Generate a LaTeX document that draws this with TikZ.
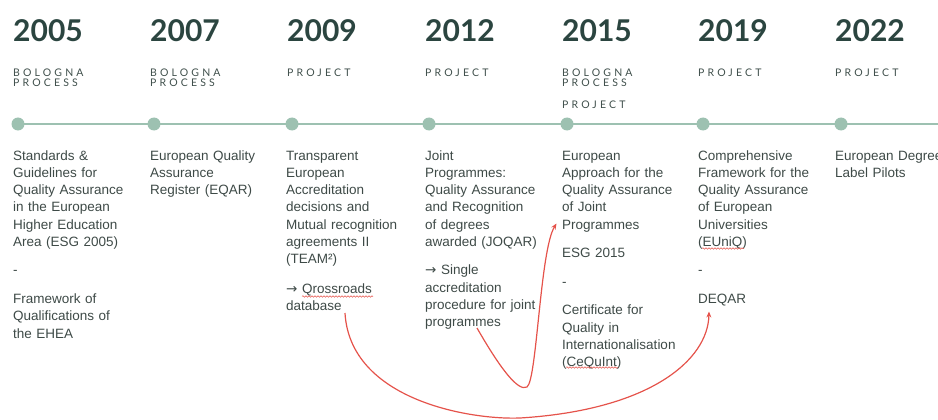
\documentclass[tikz,border=0pt]{standalone}
\usepackage{fontspec}
\setmainfont{Liberation Sans}
\newfontfamily\latofont{Lato}
\newfontfamily\capfont[LetterSpace=30]{Lato}
\newfontfamily\arrowfont{DejaVu Sans}
\usetikzlibrary{arrows.meta,backgrounds,decorations.pathmorphing}
\definecolor{yearcol}{HTML}{2B4540}
\definecolor{capcol}{HTML}{3F4F4B}
\definecolor{bodycol}{HTML}{3E4A47}
\definecolor{dotcol}{HTML}{9DC1B1}
\definecolor{redcol}{HTML}{E5534B}
\newcommand{\rarr}{{\arrowfont →}}
\tikzset{
  year/.style={anchor=base west, inner sep=0pt, text=yearcol, font=\latofont\bfseries\fontsize{30}{30}\selectfont},
  caps/.style={anchor=north west, inner sep=0pt, align=left, text=capcol, font=\capfont\fontsize{10.5}{10.8}\selectfont},
  body/.style={anchor=north west, inner sep=0pt, text width=140pt, align=left, text=bodycol, font=\fontsize{13.5}{17.25}\selectfont},
  dot/.style={circle, fill=dotcol, inner sep=0pt, minimum size=13pt},
  timeline/.style={draw=dotcol, line width=1.4pt},
  link/.style={draw=redcol, line width=1.2pt, -{Stealth[length=6pt,width=5pt]}},
  squiggle/.style={draw=redcol, line width=0.5pt, decorate, decoration={snake, amplitude=0.8pt, segment length=3pt}}
}
\begin{document}
\begin{tikzpicture}[x=1pt,y=-1pt]
\useasboundingbox (0,0) rectangle (938,420);
% years
\node[year] (y1) at (13,42) {2005};
\node[year] (y2) at (150,42) {2007};
\node[year] (y3) at (287,42) {2009};
\node[year] (y4) at (425,42) {2012};
\node[year] (y5) at (562,42) {2015};
\node[year] (y6) at (698,42) {2019};
\node[year] (y7) at (835,42) {2022};
% categories
\node[caps] (c1) at (13,68.3) {BOLOGNA\\PROCESS};
\node[caps] (c2) at (150,68.3) {BOLOGNA\\PROCESS};
\node[caps] (c3) at (287,68.3) {PROJECT};
\node[caps] (c4) at (425,68.3) {PROJECT};
\node[caps] (c5) at (562,68.3) {BOLOGNA\\PROCESS};
\node[caps] (c5b) at (562,100.8) {PROJECT};
\node[caps] (c6) at (698,68.3) {PROJECT};
\node[caps] (c7) at (835,68.3) {PROJECT};
% dots
\node[dot] (d1) at (18,124) {};
\node[dot] (d2) at (154,124) {};
\node[dot] (d3) at (292,124) {};
\node[dot] (d4) at (429,124) {};
\node[dot] (d5) at (567,124) {};
\node[dot] (d6) at (703,124) {};
\node[dot] (d7) at (841,124) {};
\coordinate (tlend) at (940,124);
\begin{scope}[on background layer]
\draw[timeline] (d1.center) -- (d2.center) -- (d3.center) -- (d4.center) -- (d5.center) -- (d6.center) -- (d7.center) -- (tlend);
\end{scope}
% texts
\node[body] (t1) at (13,147.9) {\strut Standards \&\\Guidelines for\\Quality Assurance\\in the European\\Higher Education\\Area (ESG 2005)\\[11.3pt]-\\[11.3pt]Framework of\\Qualifications of\\the EHEA};
\node[body] (t2) at (150,147.9) {\strut European Quality\\Assurance\\Register (EQAR)};
\node[body] (t3) at (286,147.9) {\strut Transparent\\European\\Accreditation\\decisions and\\Mutual recognition\\agreements II\\(TEAM²)\\[12.5pt]\rarr\ Qrossroads\\database};
\node[body] (t4) at (425,147.9) {\strut Joint\\Programmes:\\Quality Assurance\\and Recognition\\of degrees\\awarded (JOQAR)\\[11.3pt]\rarr\ Single\\accreditation\\procedure for joint\\programmes};
\node[body] (t5) at (562,147.9) {\strut European\\Approach for the\\Quality Assurance\\of Joint\\Programmes\\[11.3pt]ESG 2015\\[11.3pt]-\\[11.3pt]Certificate for\\Quality in\\Internationalisation\\(CeQuInt)};
\node[body] (t6) at (698,147.9) {\strut Comprehensive\\Framework for the\\Quality Assurance\\of European\\Universities\\(EUniQ)\\[11.3pt]-\\[11.3pt]DEQAR};
\node[body] (t7) at (835,147.9) {\strut European Degree\\Label Pilots};
% spell-check underlines
\coordinate (q1) at (302,296.5); \coordinate (q2) at (373,296.5);
\coordinate (e1) at (702,248.5); \coordinate (e2) at (744,248.5);
\coordinate (k1) at (566,367.5); \coordinate (k2) at (618,367.5);
\draw[squiggle] (q1) -- (q2);
\draw[squiggle] (e1) -- (e2);
\draw[squiggle] (k1) -- (k2);
% red links
\coordinate (s1) at (477,328);
\coordinate (e5) at (556.5,223.5);
\coordinate (s2) at (345,313);
\coordinate (e6) at (709,311.5);
\draw[link] (s1) .. controls (500,368) and (518,392) .. (527,387) .. controls (537,380) and (540,250) .. (e5);
\draw[link] (s2) .. controls (350,400) and (470,420) .. (520,418) .. controls (650,410) and (708,360) .. (e6);
\end{tikzpicture}
\end{document}
